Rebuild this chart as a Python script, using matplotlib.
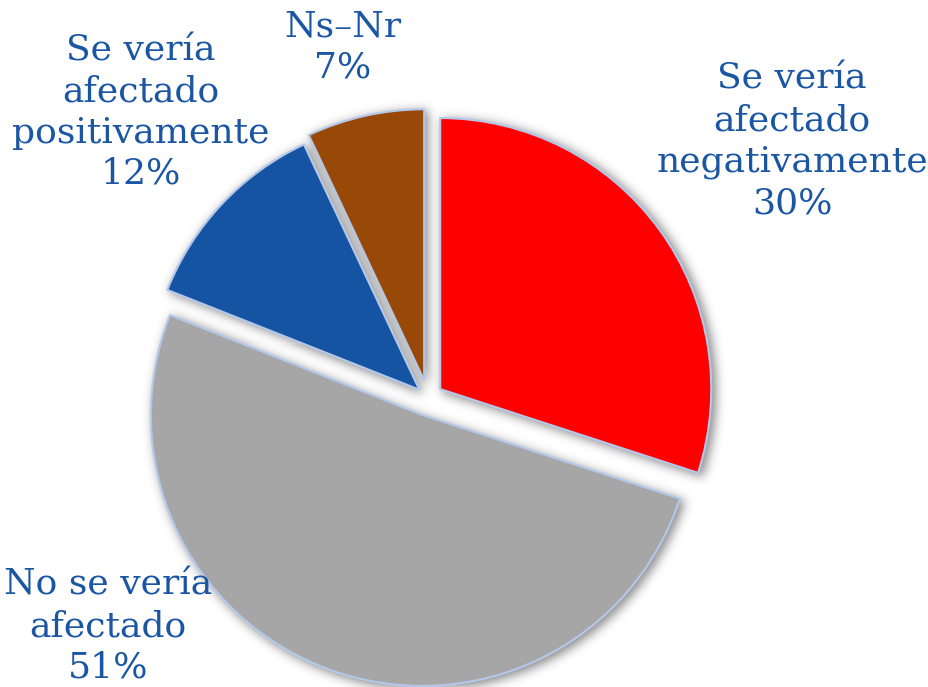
import numpy as np
import matplotlib
matplotlib.use("Agg")
import matplotlib.pyplot as plt
from matplotlib.figure import Figure
from matplotlib.backends.backend_agg import FigureCanvasAgg

# Survey answers, clockwise from 12 o'clock
categories = ["Se vería\nafectado\nnegativamente",
              "No se vería\nafectado",
              "Se vería\nafectado\npositivamente",
              "Ns–Nr"]
shares = [30, 51, 12, 7]
colors = ["#FF0000", "#A6A6A6", "#1553A3", "#984807"]

# label anchor points (pixel coords, y measured from top)
label_xy = [(792, 141), (108, 626), (141, 112), (343, 47)]

W, H = 928, 687
DPI = 100
FIGSIZE = ((W + 0.2) / DPI, (H + 0.2) / DPI)
CENTER = (428, H - 398)
RADIUS = 271
EXPLODE = [15, 18, 12, 18]   # data units (pixels) since radius is in pixels
TEXT_COLOR = "#1A56A4"
EDGE_COLOR = "#B4C8EA"


def setup(ax):
    ax.set_position([0, 0, 1, 1])
    ax.set_xlim(0, W)
    ax.set_ylim(0, H)
    ax.set_aspect("equal")
    ax.axis("off")


def draw_pie(ax, facecolors, edgecolor, lw):
    ax.pie(shares, colors=facecolors, startangle=90, counterclock=False,
           explode=EXPLODE, radius=RADIUS, center=CENTER, frame=True,
           wedgeprops=dict(edgecolor=edgecolor, linewidth=lw))
    setup(ax)


# --- soft drop shadow: render the wedge silhouettes offscreen and blur them
mfig = Figure(figsize=FIGSIZE, dpi=DPI)
mfig.patch.set_alpha(0)
FigureCanvasAgg(mfig)
max_ = mfig.add_subplot(111)
max_.patch.set_alpha(0)
draw_pie(max_, ["black"] * len(shares), "black", 1.5)
mfig.canvas.draw()
alpha = np.asarray(mfig.canvas.buffer_rgba())[:, :, 3].astype(float) / 255.0


def blur(a, sigma):
    r = int(3 * sigma)
    k = np.exp(-0.5 * (np.arange(-r, r + 1) / sigma) ** 2)
    k /= k.sum()
    p = np.pad(a, ((r, r), (0, 0)))
    a = sum(k[i] * p[i:i + a.shape[0], :] for i in range(2 * r + 1))
    p = np.pad(a, ((0, 0), (r, r)))
    a = sum(k[i] * p[:, i:i + a.shape[1]] for i in range(2 * r + 1))
    return a


dx, dy = 3, 3
shifted = np.zeros_like(alpha)
shifted[dy:, dx:] = alpha[:-dy, :-dx]
shadow = blur(shifted, 5.0) * 0.6
shadow_rgba = np.zeros(alpha.shape + (4,))
shadow_rgba[..., :3] = 0.25
shadow_rgba[..., 3] = shadow

# --- main figure
fig = plt.figure(figsize=FIGSIZE, dpi=DPI)
fig.patch.set_facecolor("white")
ax = fig.add_subplot(111)
ax.imshow(shadow_rgba, extent=(0, W, 0, H), interpolation="nearest", zorder=0)
draw_pie(ax, colors, EDGE_COLOR, 1.5)

for name, val, (x, y) in zip(categories, shares, label_xy):
    ax.text(x, H - y, f"{name}\n{val}%", ha="center", va="center",
            multialignment="center", fontsize=26, family="DejaVu Serif",
            color=TEXT_COLOR, linespacing=1.27)

fig.savefig("out.png", dpi=DPI, facecolor="white")
